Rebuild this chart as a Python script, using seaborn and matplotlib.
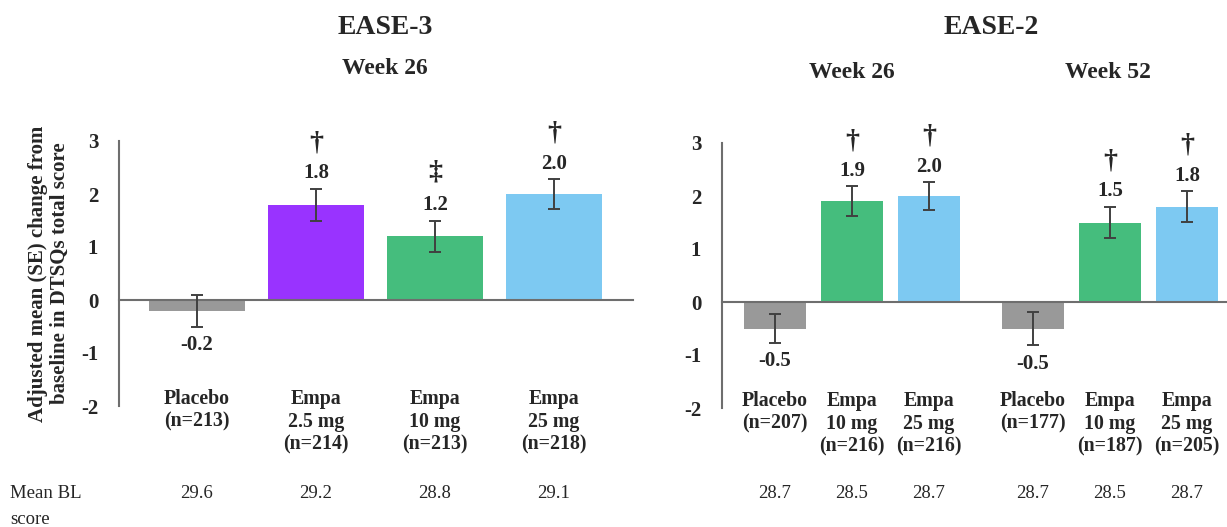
import numpy as np
import pandas as pd
import matplotlib
matplotlib.use("Agg")
import matplotlib.pyplot as plt
import seaborn as sns

# EASE-3, week 26
e3_labels = ["Placebo\n(n=213)", "Empa\n2.5 mg\n(n=214)", "Empa\n10 mg\n(n=213)", "Empa\n25 mg\n(n=218)"]
e3_change = [-0.2, 1.8, 1.2, 2.0]
e3_se = [0.3, 0.3, 0.3, 0.28]
e3_marks = ["", "†", "‡", "†"]
e3_baseline = ["29.6", "29.2", "28.8", "29.1"]
e3_colors = ["#999999", "#9933ff", "#45bd7d", "#7dc9f2"]

# EASE-2, week 26 and week 52
e2_labels = ["Placebo\n(n=207)", "Empa\n10 mg\n(n=216)", "Empa\n25 mg\n(n=216)",
             "Placebo\n(n=177)", "Empa\n10 mg\n(n=187)", "Empa\n25 mg\n(n=205)"]
e2_change = [-0.5, 1.9, 2.0, -0.5, 1.5, 1.8]
e2_se = [0.28, 0.28, 0.26, 0.32, 0.3, 0.29]
e2_marks = ["", "†", "†", "", "†", "†"]
e2_baseline = ["28.7", "28.5", "28.7", "28.7", "28.5", "28.7"]
e2_colors = ["#999999", "#45bd7d", "#7dc9f2", "#999999", "#45bd7d", "#7dc9f2"]
e2_pos = [0, 1, 2, 3.35, 4.35, 5.35]

sns.set_style("white")
plt.rcParams['font.family'] = ['Liberation Serif', 'DejaVu Serif']
txt = "#262626"
axcol = "#6e6e6e"

fig = plt.figure(figsize=(12.27, 5.27), dpi=100)
W, H = 1227, 527


def add_ax(x0, x1, y_top, y_bot):
    return fig.add_axes([x0 / W, (H - y_bot) / H, (x1 - x0) / W, (y_bot - y_top) / H])


def draw_panel(ax, pos, vals, se, colors, labels, marks, xlim, end_tick):
    df = pd.DataFrame({"pos": pos, "val": vals, "key": [str(i) for i in range(len(pos))]})
    sns.barplot(data=df, x="pos", y="val", hue="key", palette=dict(zip(df.key, colors)),
                native_scale=True, dodge=False, legend=False, width=0.8, ax=ax,
                saturation=1, linewidth=0)
    ax.errorbar(pos, vals, yerr=se, fmt="none", ecolor="#404040", elinewidth=1.4,
                capsize=4, capthick=1.4, zorder=5)
    ax.set_xlim(*xlim)
    ax.set_ylim(-2, 3)
    ax.set_yticks([-2, -1, 0, 1, 2, 3])
    ax.set_yticklabels(["-2", "-1", "0", "1", "2", "3"])
    ax.set_xlabel("")
    ax.set_ylabel("")
    for s in ["top", "right"]:
        ax.spines[s].set_visible(False)
    ax.spines["left"].set_color(axcol)
    ax.spines["left"].set_linewidth(1.5)
    ax.spines["bottom"].set_position(("data", 0))
    ax.spines["bottom"].set_color(axcol)
    ax.spines["bottom"].set_linewidth(1.5)
    ax.set_xticks([end_tick])
    ax.set_xticklabels([""])
    ax.tick_params(axis="x", direction="out", length=5, width=1.2, color=axcol)
    ax.tick_params(axis="y", direction="out", length=6, width=1.2, color=axcol,
                   labelsize=15, labelcolor=txt, pad=9)
    for t in ax.get_yticklabels():
        t.set_fontweight("bold")

    for p, v, e, lab, m in zip(pos, vals, se, labels, marks):
        if v >= 0:
            ax.annotate(f"{v:.1f}", (p, v + e), xytext=(0, 11), textcoords="offset points",
                        ha="center", va="center", fontsize=15, fontweight="bold", color=txt)
            if m:
                off = 35 if m == "‡" else 33
                ax.annotate(m, (p, v + e), xytext=(0, off), textcoords="offset points",
                            ha="center", va="center", fontsize=20, fontweight="bold", color=txt)
        else:
            ax.annotate(f"{v:.1f}", (p, v - e), xytext=(0, -13), textcoords="offset points",
                        ha="center", va="center", fontsize=15, fontweight="bold", color=txt)
        ax.text(p, -1.67, lab, ha="center", va="top", fontsize=14.3, fontweight="bold",
                color=txt, linespacing=1.2, clip_on=False)


ax1 = add_ax(119, 633, 141, 406)
draw_panel(ax1, [0, 1, 2, 3], e3_change, e3_se, e3_colors, e3_labels, e3_marks,
           (-0.655, 3.664), 3.66)
ax1.set_ylabel("Adjusted mean (SE) change from\nbaseline in DTSQs total score",
               fontsize=15, fontweight="bold", color=txt, labelpad=8, linespacing=1.1)

ax2 = add_ax(722, 1227, 143, 408)
draw_panel(ax2, e2_pos, e2_change, e2_se, e2_colors, e2_labels, e2_marks,
           (-0.688, 5.87), (2 + 3.35) / 2)

# titles
fig.text(385 / W, 1 - 27 / H, "EASE-3", ha="center", va="center", fontsize=20,
         fontweight="bold", color=txt)
fig.text(385 / W, 1 - 68 / H, "Week 26", ha="center", va="center", fontsize=17,
         fontweight="bold", color=txt)
fig.text(991 / W, 1 - 28 / H, "EASE-2", ha="center", va="center", fontsize=20,
         fontweight="bold", color=txt)
fig.text(852 / W, 1 - 72 / H, "Week 26", ha="center", va="center", fontsize=17,
         fontweight="bold", color=txt)
fig.text(1108 / W, 1 - 72 / H, "Week 52", ha="center", va="center", fontsize=17,
         fontweight="bold", color=txt)

# baseline scores row
fig.text(10 / W, 1 - 493 / H, "Mean BL", ha="left", va="center", fontsize=13.5, color=txt)
fig.text(10 / W, 1 - 519 / H, "score", ha="left", va="center", fontsize=13.5, color=txt)
for ax, pos, bl in [(ax1, [0, 1, 2, 3], e3_baseline), (ax2, e2_pos, e2_baseline)]:
    for p, b in zip(pos, bl):
        xf = fig.transFigure.inverted().transform(ax.transData.transform((p, 0)))[0]
        fig.text(xf, 1 - 493 / H, b, ha="center", va="center", fontsize=13.5, color=txt)

fig.savefig("out.png", dpi=100)
